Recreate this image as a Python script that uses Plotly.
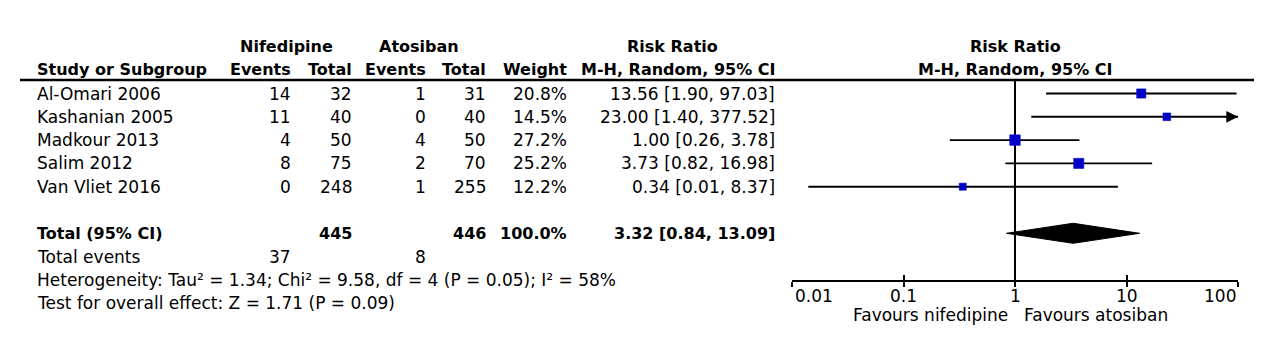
import math
import plotly.graph_objects as go

# ---------------- data ----------------
studies = ["Al-Omari 2006", "Kashanian 2005", "Madkour 2013", "Salim 2012", "Van Vliet 2016"]
nif_events = [14, 11, 4, 8, 0]
nif_total = [32, 40, 50, 75, 248]
ato_events = [1, 0, 4, 2, 1]
ato_total = [31, 40, 50, 70, 255]
weights = [20.8, 14.5, 27.2, 25.2, 12.2]
rr = [13.56, 23.00, 1.00, 3.73, 0.34]
ci_lo = [1.90, 1.40, 0.26, 0.82, 0.014]
ci_hi = [97.03, 377.52, 3.78, 16.98, 8.37]

total_nif = 445
total_ato = 446
total_weight = 100.0
total_rr = 3.32
total_lo = 0.84
total_hi = 13.09
events_nif = 37
events_ato = 8
heterogeneity = "Heterogeneity: Tau² = 1.34; Chi² = 9.58, df = 4 (P = 0.05); I² = 58%"
overall = "Test for overall effect: Z = 1.71 (P = 0.09)"

tick_vals = [0.01, 0.1, 1, 10, 100]
tick_text = ["0.01", "0.1", "1", "10", "100"]
favours_left = "Favours nifedipine"
favours_right = "Favours atosiban"

# ---------------- layout constants ----------------
W, H = 1269, 346
ROW0, ROWH = 93.5, 23.3          # pixel y of first study row, row pitch
FONT = "DejaVu Sans"
REG, BOLD = 17, 16
AX_PX = 281                      # pixel y of the forest x-axis line
X_LEFT, X_RIGHT = 792, 1238      # pixel extent of the forest axis
BLUE = "#0000C8"

def prow(px):
    return (px - ROW0) / ROWH

TOTAL_ROW = 6
EVENTS_ROW = 7
HET_ROW = 8
TEST_ROW = 9
HDR1 = prow(46)
HDR2 = prow(69)

xmin, xmax = tick_vals[0], tick_vals[-1]

fig = go.Figure()

# vertical line of no effect
fig.add_trace(go.Scatter(x=[1, 1], y=[prow(80), prow(AX_PX)], mode="lines",
                         line=dict(color="black", width=2), hoverinfo="skip", showlegend=False))

# confidence interval lines
cx, cy = [], []
for i in range(len(studies)):
    cx += [max(ci_lo[i], xmin), min(ci_hi[i], xmax), None]
    cy += [i, i, None]
fig.add_trace(go.Scatter(x=cx, y=cy, mode="lines", line=dict(color="black", width=1.9),
                         hoverinfo="skip", showlegend=False))

# study squares (area proportional to weight)
wmax = max(weights)
sizes = [10.5 * math.sqrt(w / wmax) for w in weights]
fig.add_trace(go.Scatter(x=rr, y=list(range(len(studies))), mode="markers",
                         marker=dict(symbol="square", size=sizes, color=BLUE, opacity=1,
                                     line=dict(width=0.6, color=BLUE)),
                         hoverinfo="skip", showlegend=False))

# pooled diamond
dh = 0.43
fig.add_trace(go.Scatter(x=[total_lo, total_rr, total_hi, total_rr, total_lo],
                         y=[TOTAL_ROW, TOTAL_ROW - dh, TOTAL_ROW, TOTAL_ROW + dh, TOTAL_ROW],
                         mode="lines", fill="toself", fillcolor="black",
                         line=dict(color="black", width=1), hoverinfo="skip", showlegend=False))

# invisible trace so the overlaid tick axis is drawn
fig.add_trace(go.Scatter(x=tick_vals, y=[None] * len(tick_vals), xaxis="x2", yaxis="y",
                         mode="markers", marker=dict(opacity=0), hoverinfo="skip", showlegend=False))

ann = []

def txt(xpx, row, text, anchor="left", bold=False):
    ann.append(dict(x=xpx / W, xref="paper", y=row, yref="y", text=("<b>%s</b>" % text) if bold else text,
                    xanchor=anchor, yanchor="middle", showarrow=False,
                    font=dict(family=FONT, size=BOLD if bold else REG, color="black")))

# headers
txt(286, HDR1, "Nifedipine", "center", True)
txt(419, HDR1, "Atosiban", "center", True)
txt(672, HDR1, "Risk Ratio", "center", True)
txt(1015, HDR1, "Risk Ratio", "center", True)
txt(35, HDR2, "Study or Subgroup", "left", True)
txt(293, HDR2, "Events", "right", True)
txt(354, HDR2, "Total", "right", True)
txt(428, HDR2, "Events", "right", True)
txt(488, HDR2, "Total", "right", True)
txt(569, HDR2, "Weight", "right", True)
txt(777, HDR2, "M-H, Random, 95% CI", "right", True)
txt(1015, HDR2, "M-H, Random, 95% CI", "center", True)

# study rows
for i, s in enumerate(studies):
    txt(35, i, s, "left")
    txt(293, i, str(nif_events[i]), "right")
    txt(354, i, str(nif_total[i]), "right")
    txt(428, i, str(ato_events[i]), "right")
    txt(488, i, str(ato_total[i]), "right")
    txt(569, i, "%.1f%%" % weights[i], "right")
    txt(777, i, "%.2f [%.2f, %.2f]" % (rr[i], ci_lo[i], ci_hi[i]), "right")

# totals
txt(35, TOTAL_ROW, "Total (95% CI)", "left", True)
txt(354, TOTAL_ROW, str(total_nif), "right", True)
txt(488, TOTAL_ROW, str(total_ato), "right", True)
txt(569, TOTAL_ROW, "%.1f%%" % total_weight, "right", True)
txt(777, TOTAL_ROW, "%.2f [%.2f, %.2f]" % (total_rr, total_lo, total_hi), "right", True)
txt(35, EVENTS_ROW, "Total events", "left")
txt(293, EVENTS_ROW, str(events_nif), "right")
txt(428, EVENTS_ROW, str(events_ato), "right")
txt(35, HET_ROW, heterogeneity, "left")
txt(35, TEST_ROW, overall, "left")

# tick labels (edge labels kept inside the axis span)
for k, (v, t) in enumerate(zip(tick_vals, tick_text)):
    anchor = "left" if k == 0 else ("right" if k == len(tick_vals) - 1 else "center")
    ann.append(dict(x=math.log10(v), xref="x", y=1 - 296 / H, yref="paper", text=t,
                    xanchor=anchor, yanchor="middle", showarrow=False,
                    xshift=1 if k == 0 else 0,
                    font=dict(family=FONT, size=REG, color="black")))

ann.append(dict(x=0, xref="x", y=1 - 315 / H, yref="paper", text=favours_left, xanchor="right",
                yanchor="middle", showarrow=False, xshift=-5, font=dict(family=FONT, size=REG, color="black")))
ann.append(dict(x=0, xref="x", y=1 - 315 / H, yref="paper", text=favours_right, xanchor="left",
                yanchor="middle", showarrow=False, xshift=7, font=dict(family=FONT, size=REG, color="black")))

# arrows for intervals running off the axis
for i in range(len(studies)):
    if ci_hi[i] > xmax:
        ann.append(dict(x=math.log10(xmax), xref="x", y=i, yref="y", ax=-14, ay=0, text="",
                        showarrow=True, arrowhead=2, arrowsize=1.3, arrowwidth=1.8, arrowcolor="black",
                        standoff=0))

shapes = [dict(type="line", xref="paper", yref="paper", x0=20 / W, x1=1254 / W,
               y0=1 - 80 / H, y1=1 - 80 / H, line=dict(color="black", width=2.6))]

fig.update_layout(
    width=W, height=H, margin=dict(l=0, r=0, t=0, b=0),
    paper_bgcolor="white", plot_bgcolor="white",
    showlegend=False,
    xaxis=dict(type="log", range=[math.log10(xmin), math.log10(xmax)],
               domain=[X_LEFT / W, X_RIGHT / W], anchor="free", position=1 - AX_PX / H,
               showline=True, linecolor="black", linewidth=2,
               ticks="outside", ticklen=5, tickwidth=2, tickcolor="black",
               tickmode="array", tickvals=tick_vals, showticklabels=False,
               showgrid=False, zeroline=False, fixedrange=True),
    xaxis2=dict(type="log", range=[math.log10(xmin), math.log10(xmax)], overlaying="x",
                domain=[X_LEFT / W, X_RIGHT / W], anchor="free", position=1 - AX_PX / H,
                showline=False, ticks="inside", ticklen=6, tickwidth=2, tickcolor="black",
                tickmode="array", tickvals=tick_vals, showticklabels=False,
                showgrid=False, zeroline=False, fixedrange=True),
    yaxis=dict(range=[(H - ROW0) / ROWH, -ROW0 / ROWH], domain=[0, 1], visible=False,
               fixedrange=True),
    annotations=ann, shapes=shapes,
)

fig.write_html("out.html")
